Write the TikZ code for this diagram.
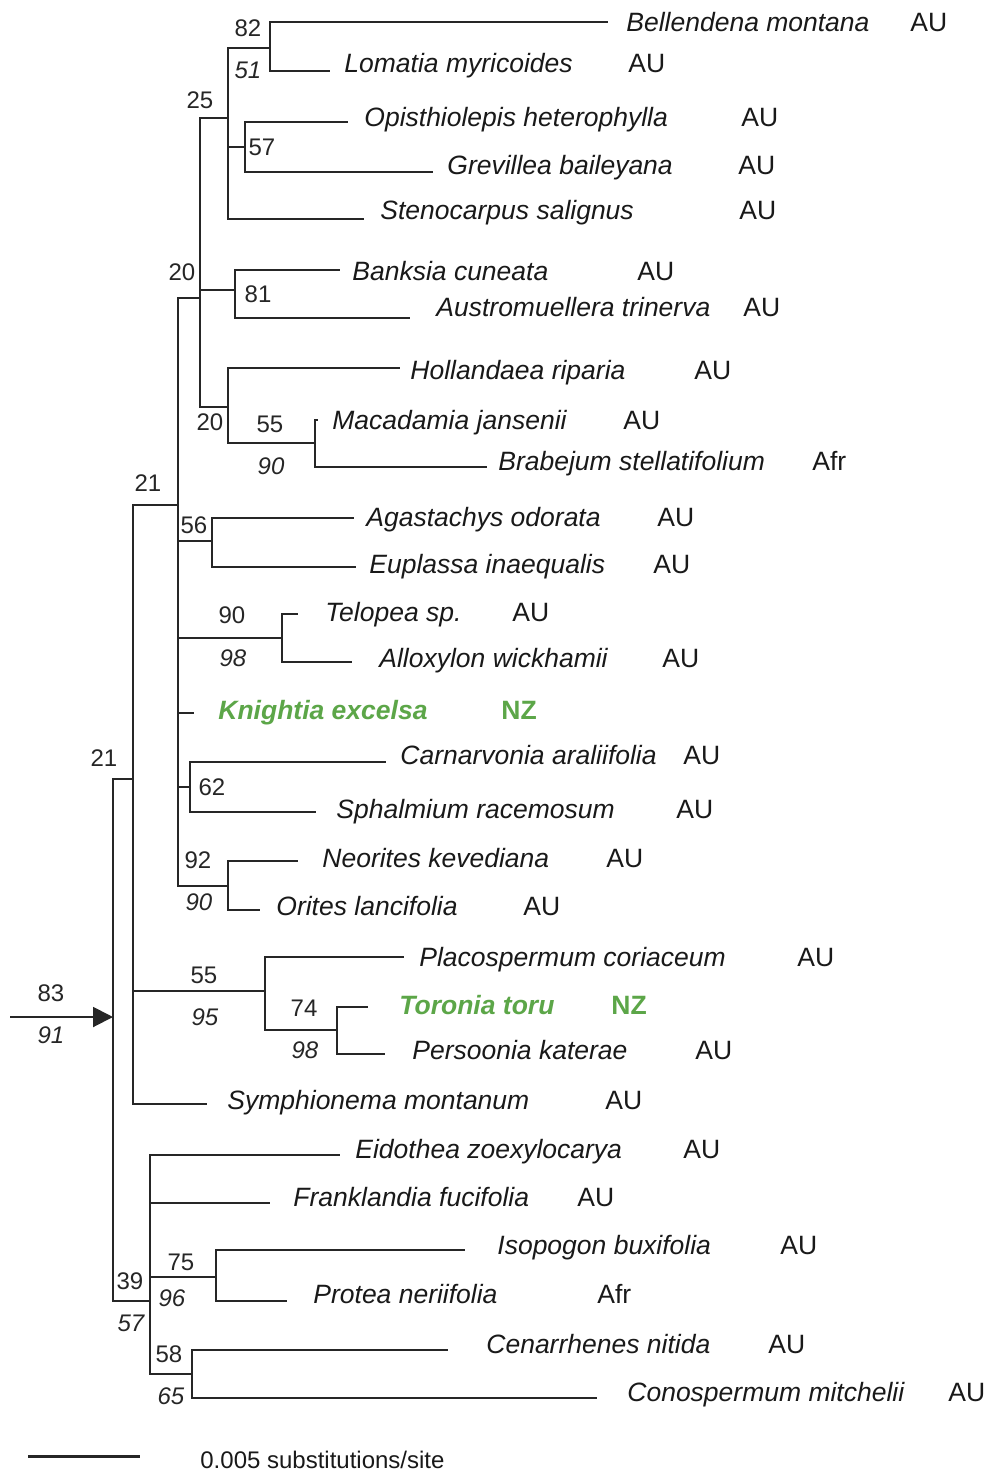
\documentclass[tikz,border=0pt]{standalone}
\usepackage{fontspec}
\setmainfont{Liberation Sans}
\usetikzlibrary{arrows.meta}
\definecolor{nzgreen}{RGB}{92,166,72}
\tikzset{
  branch/.style={line width=1pt, draw=black!85},
  taxon/.style={anchor=base west, inner sep=0pt, text=black!90, font=\fontsize{13.25}{15}\selectfont\itshape},
  region/.style={anchor=base west, inner sep=0pt, text=black!90, font=\fontsize{13.25}{15}\selectfont},
  nz/.style={text=nzgreen, font=\fontsize{13.25}{15}\selectfont\bfseries\itshape},
  nzreg/.style={text=nzgreen, font=\fontsize{13.25}{15}\selectfont\bfseries},
  support/.style={inner sep=0pt, text=black!85, font=\fontsize{12}{14}\selectfont},
  supportit/.style={inner sep=0pt, text=black!85, font=\fontsize{12}{14}\selectfont\itshape},
}
% \leaf[extra style]{name}{branch end x}{branch y}{taxon}{taxon x}{region}{region x}{text centre y}
\newcommand\leaf[9][]{%
  \coordinate (#2) at (#3,#4);
  \node[taxon,#1] (#2-name) at (#6,#9+9.5) {#5};
  \node[region] (#2-reg) at (#8,#9+9.5) {#7};
}
\begin{document}
\begin{tikzpicture}[x=0.5pt,y=-0.5pt]
\path[use as bounding box, fill=white] (0,0) rectangle (988,1472);

% internal nodes: (x of vertical bar, y where it joins its parent)
\coordinate (root) at (113,1017);
\coordinate (cA)   at (133,779);
\coordinate (cU)   at (178,505);
\coordinate (c20)  at (200,298);
\coordinate (c25)  at (228,118);
\coordinate (c82)  at (270,48);
\coordinate (c57)  at (245,147);
\coordinate (c81)  at (235,290);
\coordinate (c20b) at (228,407);
\coordinate (c55a) at (315,443);
\coordinate (c56)  at (212,541);
\coordinate (c90)  at (282,638);
\coordinate (c62)  at (190,787);
\coordinate (c92)  at (228,886);
\coordinate (c55b) at (265,991);
\coordinate (c74)  at (337,1030);
\coordinate (c39)  at (150,1301);
\coordinate (c75)  at (216,1277);
\coordinate (c58)  at (192,1374);

% tips
\leaf{bell}{608}{22}{Bellendena montana}{626}{AU}{910}{22}
\leaf{loma}{330}{71}{Lomatia myricoides}{344}{AU}{628}{63}
\leaf{opis}{348}{122}{Opisthiolepis heterophylla}{364}{AU}{741}{117}
\leaf{grev}{433}{172}{Grevillea baileyana}{447}{AU}{738}{165}
\leaf{sten}{364}{219}{Stenocarpus salignus}{380}{AU}{739}{210}
\leaf{bank}{340}{270}{Banksia cuneata}{352}{AU}{637}{271}
\leaf{aust}{410}{318}{Austromuellera trinerva}{436}{AU}{743}{307}
\leaf{holl}{400}{368}{Hollandaea riparia}{410}{AU}{694}{370}
\leaf{maca}{318}{420}{Macadamia jansenii}{332}{AU}{623}{420}
\leaf{brab}{487}{467}{Brabejum stellatifolium}{498}{Afr}{812}{461}
\leaf{agas}{354}{518}{Agastachys odorata}{366}{AU}{657}{517}
\leaf{eupl}{356}{567}{Euplassa inaequalis}{369}{AU}{653}{564}
\leaf{telo}{298}{614}{Telopea sp.}{325}{AU}{512}{612}
\leaf{allo}{352}{662}{Alloxylon wickhamii}{379}{AU}{662}{658}
\coordinate (knig) at (194,713);
\node[taxon,nz] (knig-name) at (218,710+9.5) {Knightia excelsa};
\node[region,nzreg] (knig-reg) at (501,710+9.5) {NZ};
\leaf{carn}{386}{762}{Carnarvonia araliifolia}{400}{AU}{683}{755}
\leaf{spha}{316}{812}{Sphalmium racemosum}{336}{AU}{676}{809}
\leaf{neor}{298}{861}{Neorites kevediana}{322}{AU}{606}{858}
\leaf{orit}{260}{910}{Orites lancifolia}{276}{AU}{523}{906}
\leaf{plac}{404}{957}{Placospermum coriaceum}{419}{AU}{797}{957}
\coordinate (toro) at (368,1007);
\node[taxon,nz] (toro-name) at (399,1005+9.5) {Toronia toru};
\node[region,nzreg] (toro-reg) at (611,1005+9.5) {NZ};
\leaf{pers}{385}{1054}{Persoonia katerae}{412}{AU}{695}{1050}
\leaf{symp}{207}{1104}{Symphionema montanum}{227}{AU}{605}{1100}
\leaf{eido}{340}{1155}{Eidothea zoexylocarya}{355}{AU}{683}{1149}
\leaf{fran}{270}{1203}{Franklandia fucifolia}{293}{AU}{577}{1197}
\leaf{isop}{465}{1250}{Isopogon buxifolia}{497}{AU}{780}{1245}
\leaf{prot}{287}{1301}{Protea neriifolia}{313}{Afr}{597}{1294}
\leaf{cena}{448}{1350}{Cenarrhenes nitida}{486}{AU}{768}{1344}
\leaf{cono}{597}{1398}{Conospermum mitchelii}{627}{AU}{948}{1392}

% branches
\draw[branch] (root) |- (cA)  (root) |- (c39);
\draw[branch] (cA) |- (cU)  (cA) |- (c55b)  (cA) |- (symp);
\draw[branch] (cU) |- (c20) (cU) |- (c56) (cU) |- (c90) (cU) |- (knig) (cU) |- (c62) (cU) |- (c92);
\draw[branch] (c20) |- (c25) (c20) |- (c81) (c20) |- (c20b);
\draw[branch] (c25) |- (c82) (c25) |- (c57) (c25) |- (sten);
\draw[branch] (c82) |- (bell) (c82) |- (loma);
\draw[branch] (c57) |- (opis) (c57) |- (grev);
\draw[branch] (c81) |- (bank) (c81) |- (aust);
\draw[branch] (c20b) |- (holl) (c20b) |- (c55a);
\draw[branch] (c55a) |- (maca) (c55a) |- (brab);
\draw[branch] (c56) |- (agas) (c56) |- (eupl);
\draw[branch] (c90) |- (telo) (c90) |- (allo);
\draw[branch] (c62) |- (carn) (c62) |- (spha);
\draw[branch] (c92) |- (neor) (c92) |- (orit);
\draw[branch] (c55b) |- (plac) (c55b) |- (c74);
\draw[branch] (c74) |- (toro) (c74) |- (pers);
\draw[branch] (c39) |- (eido) (c39) |- (fran) (c39) |- (c75) (c39) |- (c58);
\draw[branch] (c75) |- (isop) (c75) |- (prot);
\draw[branch] (c58) |- (cena) (c58) |- (cono);

% stem arrow
\coordinate (stem) at (10,1017);
\draw[branch, -{Triangle[length=10pt,width=10pt]}] (stem) -- (root);
\node[support]   (s83) at (51,993) {83};
\node[supportit] (s91) at (51,1035) {91};

% support values
\node[support]   (l82)  at (248,28)  {82};
\node[supportit] (l51)  at (248,70)  {51};
\node[support]   (l25)  at (200,100) {25};
\node[support]   (l57)  at (262,147) {57};
\node[support]   (l20)  at (182,272) {20};
\node[support]   (l81)  at (258,294) {81};
\node[support]   (l20b) at (210,422) {20};
\node[support]   (l55a) at (270,424) {55};
\node[supportit] (l90a) at (271,466) {90};
\node[support]   (l21a) at (148,483) {21};
\node[support]   (l56)  at (194,525) {56};
\node[support]   (l90b) at (232,615) {90};
\node[supportit] (l98a) at (233,658) {98};
\node[support]   (l21b) at (104,758) {21};
\node[support]   (l62)  at (212,787) {62};
\node[support]   (l92)  at (198,860) {92};
\node[supportit] (l90c) at (199,902) {90};
\node[support]   (l55b) at (204,975) {55};
\node[supportit] (l95)  at (205,1017) {95};
\node[support]   (l74)  at (304,1008) {74};
\node[supportit] (l98b) at (305,1050) {98};
\node[support]   (l75)  at (181,1262) {75};
\node[supportit] (l96)  at (172,1298) {96};
\node[support]   (l39)  at (130,1281) {39};
\node[supportit] (l57b) at (131,1323) {57};
\node[support]   (l58)  at (169,1354) {58};
\node[supportit] (l65)  at (171,1396) {65};

% scale bar
\coordinate (sb1) at (28,1456);
\coordinate (sb2) at (140,1456);
\draw[line width=1.5pt, draw=black!85] (sb1) -- (sb2);
\node[region, font=\fontsize{12}{14}\selectfont] (sbl) at (200,1468) {0.005 substitutions/site};
\end{tikzpicture}
\end{document}
